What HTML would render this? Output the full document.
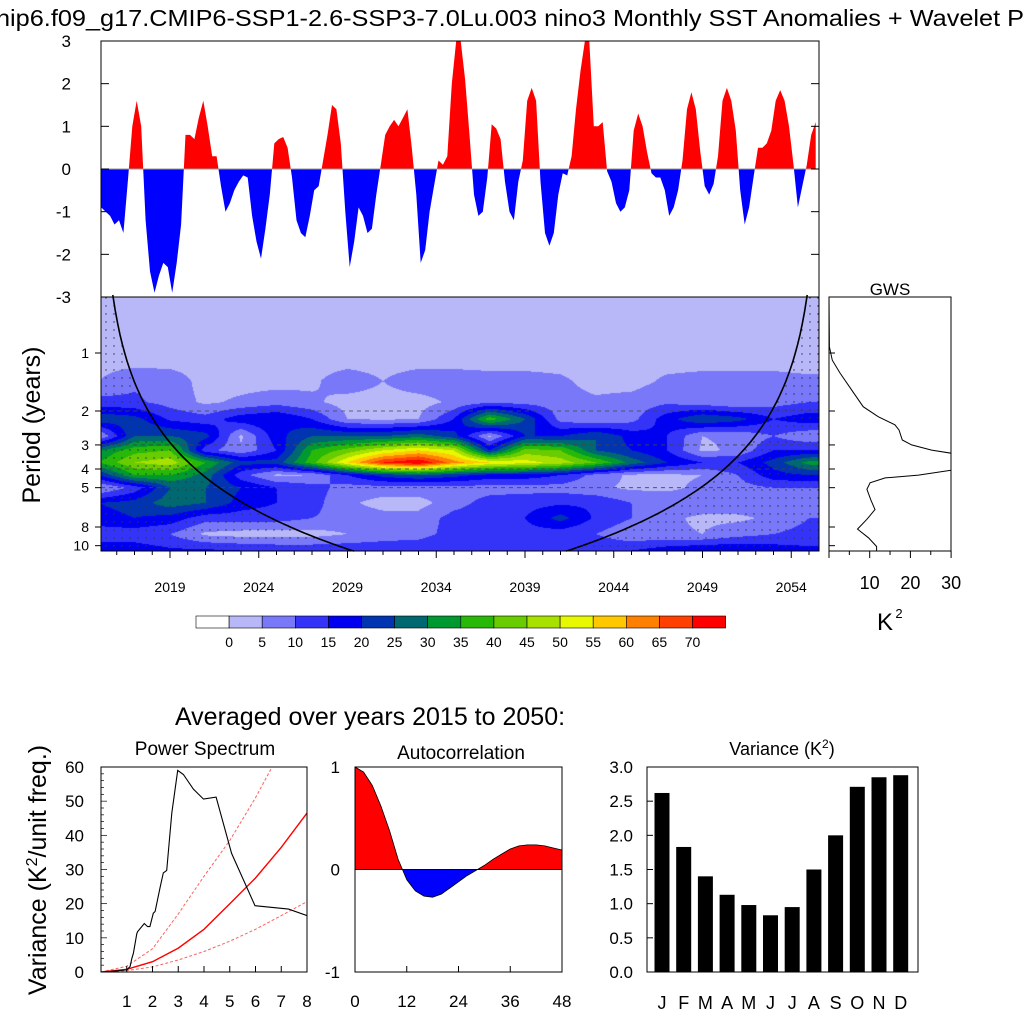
<!DOCTYPE html>
<html><head><meta charset="utf-8">
<style>
html,body{margin:0;padding:0;background:#fff;}
#wrap{position:relative;width:1024px;height:1024px;overflow:hidden;font-family:"Liberation Sans",Arial,sans-serif;}
#wave{position:absolute;left:101px;top:297px;}
#svg{position:absolute;left:0;top:0;}
text{font-family:"Liberation Sans",Arial,sans-serif;fill:#000;}
</style></head>
<body>
<div id="wrap">
<canvas id="wave" width="718" height="254"></canvas>
<svg id="svg" width="1024" height="1024" xmlns="http://www.w3.org/2000/svg">
<defs>
<pattern id="dots" width="8" height="8" patternUnits="userSpaceOnUse"><circle cx="2" cy="2" r="0.7" fill="#333"/></pattern>
<clipPath id="clipUp"><rect x="101" y="41" width="718" height="128"/></clipPath>
<clipPath id="clipDn"><rect x="101" y="169" width="718" height="128"/></clipPath>
<clipPath id="clipPS"><rect x="101" y="767" width="206" height="205"/></clipPath>
<clipPath id="clipGWS"><rect x="829" y="297" width="122" height="254"/></clipPath>
<clipPath id="clipACp"><rect x="355" y="767" width="207" height="102.5"/></clipPath>
<clipPath id="clipACn"><rect x="355" y="869.5" width="207" height="103"/></clipPath>
</defs>
<g id="g"></g>
</svg>
</div>
<script>
// ---- data ----
const tsStart = 2015.125;
const tsStep = 0.25;
const tsValues = [-0.9,-1.0,-1.1,-1.3,-1.2,-1.5,-0.3,1.0,1.6,1.0,-1.2,-2.4,-2.9,-2.5,-2.2,-2.3,-2.9,-2.2,-1.3,0.8,0.8,0.7,1.2,1.6,1.0,0.3,0.3,-0.4,-1.0,-0.8,-0.5,-0.3,-0.15,-0.2,-1.1,-1.7,-2.1,-1.4,-0.6,0.6,0.7,0.75,0.5,-0.2,-1.2,-1.5,-1.6,-1.1,-0.5,-0.4,0.2,0.8,1.5,1.4,0.6,-1.0,-2.3,
-1.7,-0.9,-1.1,-1.5,-1.4,-0.6,0.1,0.8,1.0,1.15,1.0,1.2,1.4,0.5,-0.6,-2.2,-1.9,-1.0,-0.4,0.2,0.1,0.3,2.0,3.0,3.0,2.1,0.8,-0.6,-1.1,-1.0,-0.2,1.05,0.95,0.7,-0.3,-1.0,-1.2,-0.3,0.2,1.6,1.9,1.6,-0.3,-1.5,-1.8,-1.5,-0.6,-0.1,-0.15,0.3,1.4,2.3,3.0,3.0,
1.0,1.0,1.1,-0.05,-0.3,-0.8,-1.0,-0.9,-0.5,0.9,1.3,1.0,0.4,-0.1,-0.2,-0.2,-0.5,-1.1,-0.9,-0.5,0.2,1.4,1.8,1.4,0.4,-0.4,-0.6,-0.35,0.3,1.6,1.9,1.6,0.9,-0.5,-1.3,-0.9,-0.2,0.5,0.5,0.6,0.9,1.6,1.85,1.6,1.0,0.1,-0.9,-0.4,0.1,0.8,1.1];
const tsTicks = [3,2,1,0,-1,-2,-3];

const waveYears = [2015,2017,2019,2021,2023,2025,2027,2029,2031,2033,2035,2037,2039,2041,2043,2045,2047,2049,2051,2053,2055];
const wavePeriods = [0.5,0.8,1.1,1.4,1.8,2.2,2.7,3.2,3.7,4.3,5,6,7.2,8.7,10.6];
const wavePower = [
[1,1,1,1,1,1,1,1,1,1,1,1,1,1,1,1,1,1,1,1,1],
[2,2,2,2,2,2,2,2,2,2,2,2,2,2,2,2,2,2,2,2,2],
[3,3,3,3,3,3,3,3,3,3,3,3,3,3,3,3,3,3,3,3,3],
[5,9,8,3,3,3,4,8,5,8,8,7,7,6,3,3,6,7,7,7,6],
[12,11,8,4,6,8,6,3,3,3,6,9,8,7,6,7,9,7,5,8,10],
[24,22,14,12,18,20,15,5,4,5,15,38,25,8,5,8,18,25,22,15,18],
[4,25,25,22,4,18,25,25,25,28,22,4,20,20,25,18,15,5,6,10,6],
[30,38,40,12,6,15,35,42,50,55,50,20,42,40,25,20,15,4,6,15,15],
[35,45,48,35,22,22,38,55,70,75,62,55,52,48,40,28,20,15,15,22,32],
[20,35,35,28,12,4,5,15,22,25,22,18,18,15,8,4,4,5,10,18,20],
[4,12,25,25,20,15,12,8,8,8,8,8,8,8,6,4,4,6,8,10,10],
[20,22,28,25,18,15,12,6,3,3,8,12,13,14,14,10,8,8,8,8,8],
[18,20,18,12,12,12,10,8,7,7,12,13,15,22,14,10,6,4,4,6,10],
[12,12,10,4,3,3,3,5,7,8,12,13,13,12,10,6,6,5,8,10,12],
[18,18,16,16,15,14,14,14,14,14,15,15,15,14,14,15,18,20,20,18,16]];
const levelColors = ["#ffffff","#b8b8f8","#7878f8","#3434f8","#0000f0","#0034b0","#006870","#009830","#28b808","#68cc00","#a8e000","#e8f800","#ffc800","#ff8000","#ff4000","#ff0000"];
const levelLabels = [0,5,10,15,20,25,30,35,40,45,50,55,60,65,70];
const yearTicks = [2019,2024,2029,2034,2039,2044,2049,2054];
const periodTicks = [1,2,3,4,5,8,10];

const gwsPeriods = [0.51,0.93,1.09,1.27,1.56,1.9,2.14,2.36,2.51,2.83,3.0,3.19,3.32,3.66,4.05,4.3,4.45,4.72,5.1,5.8,6.5,7.3,8.2,9.1,10.1,10.6];
const gwsPower = [0,0.1,0.8,2.7,5.6,8.4,12.1,16.2,17.2,18.0,20.3,25.2,30.3,40,30.3,22,13.8,10.1,9.3,10.3,11.3,9.3,7.0,9.7,11.7,11.7];
const gwsTicks = [10,20,30];

const psFreq = [0.09,1.0,1.13,1.2,1.26,1.39,1.42,1.68,1.81,1.9,2.03,2.1,2.29,2.42,2.55,2.75,2.98,3.2,3.59,3.98,4.47,5.07,5.98,7.28,8.0];
const psPower = [0,0.6,1.6,4,5.5,11.2,11.8,14.2,13.3,13.3,17.2,17.7,24.6,29.0,29.7,46.5,59.0,57.8,53.5,50.6,51.2,34.7,19.4,18.4,16.5];
const rnFreq = [0,1,2,3,4,5,6,7,8];
const rnMean = [0,0.8,3,7,12.5,20,27.5,36.5,46.5];
const rnUpper = [0,1.7,6.8,17,28,38.5,51,65,80];
const rnLower = [0,0.4,1.5,3.5,6,9,12.5,16.5,20.6];
const psYTicks = [0,10,20,30,40,50,60];
const psXTicks = [1,2,3,4,5,6,7,8];

const acLags = [0,2,4,6,8,10,12,14,16,18,20,22,24,26,28,30,32,34,36,38,40,42,44,46,48];
const acValues = [1.0,0.95,0.82,0.62,0.38,0.1,-0.1,-0.21,-0.26,-0.27,-0.24,-0.18,-0.12,-0.06,-0.01,0.04,0.1,0.15,0.2,0.23,0.24,0.24,0.23,0.21,0.19];
const acXTicks = [0,12,24,36,48];
const acYTicks = [1,0,-1];

const months = ["J","F","M","A","M","J","J","A","S","O","N","D"];
const monthVar = [2.62,1.83,1.40,1.13,0.98,0.83,0.95,1.50,2.00,2.71,2.85,2.88];
const varTicks = [0,0.5,1,1.5,2,2.5,3];

// ---- axis functions ----
const xYear = t => 99 + (t - 2015) * 17.75;
const yTS = v => 169 - 42.67 * v;
const yPer = p => 353 + 58 * Math.log2(p);
const xGWS = v => 829 + v * 4.07;
const xPS = f => 101 + f * 25.75;
const yPS = v => 972 - v * 3.4167;
const xAC = l => 355 + l * 4.3125;
const yAC = v => 869.5 - v * 102.5;
const xVar = i => 662 + i * 21.7;
const yVar = v => 972 - v * 68.33;

const NS = "http://www.w3.org/2000/svg";
const G = document.getElementById("g");
function mk(tag, attrs, parent){const e=document.createElementNS(NS,tag);for(const k in attrs)e.setAttribute(k,attrs[k]);(parent||G).appendChild(e);return e;}
function txt(x,y,s,size,anchor,parent){const e=mk("text",{x:x,y:y,"font-size":size,"text-anchor":anchor||"middle"},parent);e.textContent=s;return e;}

// ---- wavelet canvas ----
(function(){
 const c=document.getElementById("wave");const ctx=c.getContext("2d");
 const lp=wavePeriods.map(p=>Math.log2(p));
 const img=ctx.createImageData(718,254);
 const rgb=levelColors.map(h=>[parseInt(h.substr(1,2),16),parseInt(h.substr(3,2),16),parseInt(h.substr(5,2),16)]);
 for(let py=0;py<254;py++){
  const l=(297+py+0.5-353)/58;
  let r=0;while(r<lp.length-2&&lp[r+1]<l)r++;
  let fy=(l-lp[r])/(lp[r+1]-lp[r]);fy=Math.max(0,Math.min(1,fy));
  for(let px=0;px<718;px++){
   const t=2015+(101+px+0.5-99)/17.75;
   let ci=Math.floor((t-2015)/2);ci=Math.max(0,Math.min(waveYears.length-2,ci));
   let fx=(t-waveYears[ci])/2;fx=Math.max(0,Math.min(1,fx));
   const a=wavePower[r][ci]*(1-fx)+wavePower[r][ci+1]*fx;
   const b=wavePower[r+1][ci]*(1-fx)+wavePower[r+1][ci+1]*fx;
   const v=a*(1-fy)+b*fy;
   let lv=Math.floor(v/5)+1;lv=Math.max(1,Math.min(15,lv));
   const k=(py*718+px)*4;img.data[k]=rgb[lv][0];img.data[k+1]=rgb[lv][1];img.data[k+2]=rgb[lv][2];img.data[k+3]=255;
  }
 }
 ctx.putImageData(img,0,0);
})();

// ---- title ----
const title=txt(-4,26,"nip6.f09_g17.CMIP6-SSP1-2.6-SSP3-7.0Lu.003 nino3 Monthly SST Anomalies + Wavelet P",23,"start");
title.setAttribute("textLength","1028");
title.setAttribute("lengthAdjust","spacingAndGlyphs");



// ---- time series panel ----
let d="M"+xYear(tsStart).toFixed(1)+","+yTS(0);
tsValues.forEach((v,i)=>{d+=" L"+xYear(tsStart+i*tsStep).toFixed(1)+","+yTS(v).toFixed(1);});
d+=" L"+xYear(tsStart+(tsValues.length-1)*tsStep).toFixed(1)+","+yTS(0)+" Z";
const tsPos=mk("path",{d:d,fill:"#ff0000","clip-path":"url(#clipUp)"});


const tsNeg=mk("path",{d:d,fill:"#0000ff","clip-path":"url(#clipDn)"});


mk("line",{x1:101,y1:yTS(0),x2:819,y2:yTS(0),stroke:"#999","stroke-width":1});
const tsFrame=mk("rect",{x:101,y:41,width:718,height:256,fill:"none",stroke:"#000","stroke-width":1});


tsTicks.forEach(v=>{
 mk("line",{x1:101,y1:yTS(v),x2:109,y2:yTS(v),stroke:"#000"});
 mk("line",{x1:819,y1:yTS(v),x2:811,y2:yTS(v),stroke:"#000"});
 const t=txt(71,yTS(v)+6,String(v),17,"end");
 
 
});

// ---- wavelet overlays ----
[2,3,4,5].forEach(p=>{mk("line",{x1:101,y1:yPer(p),x2:819,y2:yPer(p),stroke:"#444","stroke-width":0.8,"stroke-dasharray":"4,4"});});
const coiP=[];for(let p=0.5;p<=10.7;p+=0.1)coiP.push(p);
let dl="M101,297",dr="M819,297",cl="",cr="";
coiP.forEach((p,i)=>{const y=Math.min(551,yPer(p)),xl=101+p/0.75*17.75,xr=819-p/0.75*17.75;
 dl+=" L"+xl.toFixed(1)+","+y.toFixed(1);dr+=" L"+xr.toFixed(1)+","+y.toFixed(1);
 cl+=(i?" L":"M")+xl.toFixed(1)+","+y.toFixed(1);cr+=(i?" L":"M")+xr.toFixed(1)+","+y.toFixed(1);});
dl+=" L101,551 Z";dr+=" L819,551 Z";
mk("path",{d:dl,fill:"url(#dots)"});mk("path",{d:dr,fill:"url(#dots)"});
const coiL=mk("path",{d:cl,fill:"none",stroke:"#000","stroke-width":1.6});


const coiR=mk("path",{d:cr,fill:"none",stroke:"#000","stroke-width":1.6});


mk("rect",{x:101,y:297,width:718,height:254,fill:"none",stroke:"#000","stroke-width":1});
periodTicks.forEach(p=>{
 mk("line",{x1:95,y1:yPer(p),x2:101,y2:yPer(p),stroke:"#000"});
 const t=txt(89,yPer(p)+5,String(p),14,"end");
 
 
});
for(let y=2015;y<=2055;y++){const x=xYear(y);if(x<101||x>819)continue;
 const major=yearTicks.includes(y);mk("line",{x1:x,y1:551,x2:x,y2:major?558:555,stroke:"#000"});}
yearTicks.forEach(y=>{const t=txt(xYear(y),592,String(y),14);
 
 });
const pLab=mk("text",{x:0,y:0,"font-size":25,"text-anchor":"middle",transform:"translate(40,425) rotate(-90)"});
pLab.textContent="Period (years)";



// ---- GWS ----
let gd="";gwsPeriods.forEach((p,i)=>{gd+=(i?" L":"M")+xGWS(gwsPower[i]).toFixed(1)+","+Math.min(551,yPer(p)).toFixed(1);});
const gws=mk("path",{d:gd,fill:"none",stroke:"#000","stroke-width":1,"clip-path":"url(#clipGWS)"});


mk("rect",{x:829,y:297,width:122,height:254,fill:"none",stroke:"#000"});
periodTicks.forEach(p=>mk("line",{x1:829,y1:yPer(p),x2:835,y2:yPer(p),stroke:"#000"}));
for(let v=0;v<=30;v+=5){mk("line",{x1:xGWS(v),y1:551,x2:xGWS(v),y2:v%10?555:558,stroke:"#000"});}
gwsTicks.forEach(v=>{const t=txt(xGWS(v),589,String(v),18);
 
 });
const gT=txt(890,295,"GWS",17);


const kT=txt(885,630,"K",24);


txt(899,618,"2",13);

// ---- colorbar ----
levelColors.forEach((c,i)=>{const r=mk("rect",{x:196+i*33.1,y:616,width:33.1,height:12,fill:c,stroke:"#000","stroke-width":0.6});
 
 });
levelLabels.forEach((v,i)=>{const t=txt(196+(i+1)*33.1,647,String(v),14);
 
 });

// ---- bottom title ----
const bt=txt(370,725,"Averaged over years 2015 to 2050:",25);



// ---- power spectrum ----
const st1=txt(205,755,"Power Spectrum",19);


function line(xs,ys,fx,fy){return xs.map((x,i)=>(i?"L":"M")+fx(x).toFixed(1)+","+fy(ys[i]).toFixed(1)).join(" ");}
const up=mk("path",{d:line(rnFreq,rnUpper,xPS,yPS),fill:"none",stroke:"#ff6060","stroke-width":1,"stroke-dasharray":"3,2","clip-path":"url(#clipPS)"});


const lo=mk("path",{d:line(rnFreq,rnLower,xPS,yPS),fill:"none",stroke:"#ff6060","stroke-width":1,"stroke-dasharray":"3,2","clip-path":"url(#clipPS)"});


const mn=mk("path",{d:line(rnFreq,rnMean,xPS,yPS),fill:"none",stroke:"#ff0000","stroke-width":1.4,"clip-path":"url(#clipPS)"});


const ps=mk("path",{d:line(psFreq,psPower,xPS,yPS),fill:"none",stroke:"#000","stroke-width":1.1,"clip-path":"url(#clipPS)"});


mk("rect",{x:101,y:767,width:206,height:205,fill:"none",stroke:"#000"});
for(let v=0;v<=60;v+=2){mk("line",{x1:101,y1:yPS(v),x2:v%10?104:107,y2:yPS(v),stroke:"#000","stroke-width":0.7});}
psYTicks.forEach(v=>{const t=txt(84,yPS(v)+6,String(v),17,"end");
 
 });
psXTicks.forEach(f=>{mk("line",{x1:xPS(f),y1:972,x2:xPS(f),y2:966,stroke:"#000"});
 const t=txt(xPS(f),1007,String(f),17);
 
 });
const vl=mk("text",{x:0,y:0,"font-size":25,"text-anchor":"middle",transform:"translate(46,870) rotate(-90)"});
vl.innerHTML='Variance (K<tspan dy="-9" font-size="16">2</tspan><tspan dy="9">/unit freq.)</tspan>';



// ---- autocorrelation ----
const st2=txt(461,759,"Autocorrelation",19);


const ad=line(acLags,acValues,xAC,yAC)+" L"+xAC(48)+","+yAC(0)+" L"+xAC(0)+","+yAC(0)+" Z";
const acP=mk("path",{d:ad,fill:"#ff0000",stroke:"none","clip-path":"url(#clipACp)"});


const acN=mk("path",{d:ad,fill:"#0000ff",stroke:"none","clip-path":"url(#clipACn)"});


mk("path",{d:line(acLags,acValues,xAC,yAC),fill:"none",stroke:"#000","stroke-width":0.8});
mk("line",{x1:355,y1:yAC(0),x2:562,y2:yAC(0),stroke:"#000"});
mk("rect",{x:355,y:767,width:207,height:205,fill:"none",stroke:"#000"});
acYTicks.forEach(v=>{mk("line",{x1:355,y1:yAC(v),x2:361,y2:yAC(v),stroke:"#000"});
 const t=txt(340,yAC(v)+6,String(v),17,"end");
 
 });
acXTicks.forEach(l=>{mk("line",{x1:xAC(l),y1:972,x2:xAC(l),y2:966,stroke:"#000"});
 const t=txt(xAC(l),1007,String(l),17);
 
 });

// ---- monthly variance ----
const st3=mk("text",{x:782,y:755,"font-size":18,"text-anchor":"middle"});
st3.innerHTML='Variance (K<tspan dy="-7" font-size="12">2</tspan><tspan dy="7">)</tspan>';


monthVar.forEach((v,i)=>{const b=mk("rect",{x:xVar(i)-7.5,y:yVar(v),width:15,height:972-yVar(v),fill:"#000"});
 
 });
mk("rect",{x:647,y:767,width:271,height:205,fill:"none",stroke:"#000"});
varTicks.forEach(v=>{mk("line",{x1:647,y1:yVar(v),x2:653,y2:yVar(v),stroke:"#000"});
 const t=txt(633,yVar(v)+6,v.toFixed(1),17,"end");
 
 });
months.forEach((m,i)=>{const t=txt(xVar(i),1009,m,18);
 
 });
</script>
</body></html>
